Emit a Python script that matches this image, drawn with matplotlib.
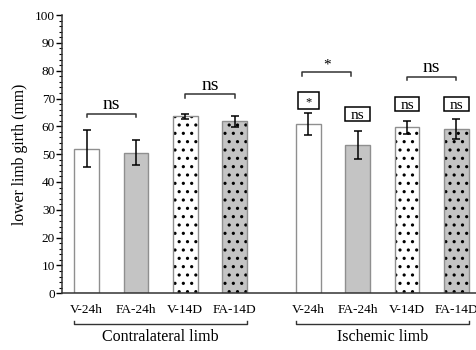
import matplotlib
matplotlib.use("Agg")
import matplotlib.pyplot as plt
from matplotlib.patches import Rectangle
import numpy as np

plt.rcParams["font.family"] = ["Liberation Serif", "DejaVu Serif"]
plt.rcParams["hatch.linewidth"] = 1.1

# Data
labels = ["V-24h", "FA-24h", "V-14D", "FA-14D", "V-24h", "FA-24h", "V-14D", "FA-14D"]
positions = [0, 1, 2, 3, 4.5, 5.5, 6.5, 7.5]
means = [52.0, 50.6, 63.6, 61.8, 60.9, 53.3, 59.6, 58.9]
errors = [6.7, 4.5, 0.8, 1.9, 4.0, 4.9, 2.5, 3.6]
fills = ["white", "#c4c4c4", "white", "#c4c4c4", "white", "#c4c4c4", "white", "#c4c4c4"]
hatches = ["", "", "..", "..", "", "", "..", ".."]
groups = ["Contralateral limb", "Ischemic limb"]

fig = plt.figure(figsize=(4.77, 3.5), dpi=100)
ax = fig.add_axes([62 / 477, 0.162, 1 - 62 / 477, 0.795])

for x, m, e, c, h in zip(positions, means, errors, fills, hatches):
    # fill + black dot hatch, then a grey outline on top
    ax.bar(x, m, width=0.5, color=c, edgecolor="black", linewidth=0, hatch=h)
    ax.bar(x, m, width=0.5, fill=False, edgecolor="#8f8f8f", linewidth=1.0)
    ax.errorbar(x, m, yerr=e, color="black", capsize=3, capthick=1.1, elinewidth=1.1)

ax.set_xlim(-0.5, 7.92)
ax.set_ylim(0, 100)
ax.set_yticks(np.arange(0, 101, 10))
ax.set_yticks(np.arange(0, 101, 2), minor=True)
ax.tick_params(axis="y", which="major", length=4, width=1, labelsize=9.5, pad=1)
ax.tick_params(axis="y", which="minor", length=2.5, width=0.8)
ax.set_xticks(positions)
ax.set_xticklabels(labels, fontsize=9.6)
ax.tick_params(axis="x", length=0, pad=8)
ax.set_ylabel("lower limb girth (mm)", fontsize=11.3)
ax.yaxis.set_label_coords(-0.082, 0.5)
for s in ["top", "right"]:
    ax.spines[s].set_visible(False)
for s in ["left", "bottom"]:
    ax.spines[s].set_color("#333333")
    ax.spines[s].set_linewidth(1.1)


def bracket(x1, x2, y, text, size=14, dy=0.2):
    ax.plot([x1, x1, x2, x2], [y - 1.3, y, y, y - 1.3], color="#333333", lw=1.1, clip_on=False)
    ax.text((x1 + x2) / 2, y + dy, text, ha="center", va="bottom", fontsize=size)


bracket(0, 1, 64.6, "ns")
bracket(2, 3, 71.6, "ns")
bracket(4.37, 5.37, 79.4, "*", size=11, dy=0.4)
bracket(6.5, 7.5, 77.8, "ns")

# boxed labels above ischemic bars: (x, box bottom, box top, width, text)
boxed = [(4.5, 66.4, 72.3, 0.41, "*"), (5.5, 61.8, 66.9, 0.5, "ns"),
         (6.5, 65.4, 70.5, 0.5, "ns"), (7.5, 65.4, 70.5, 0.5, "ns")]
for x, y0, y1, w, t in boxed:
    ax.add_patch(Rectangle((x - w / 2, y0), w, y1 - y0, facecolor="white",
                           edgecolor="black", linewidth=1.1, zorder=4))
    if t == "*":
        ax.text(x, (y0 + y1) / 2 - 0.6, t, ha="center", va="center", fontsize=9, zorder=5)
    else:
        ax.text(x, (y0 + y1) / 2 - 0.4, t, ha="center", va="center", fontsize=11, zorder=5)

# group brackets below the axis
for (x1, x2), g in zip([(-0.25, 3.25), (4.25, 7.75)], groups):
    ax.plot([x1, x1, x2, x2], [-9.9, -11.0, -11.0, -9.9], color="#333333", lw=1.0, clip_on=False)
    ax.text((x1 + x2) / 2, -15.6, g, ha="center", va="center", fontsize=11.5)

fig.savefig("out.png", dpi=100)
